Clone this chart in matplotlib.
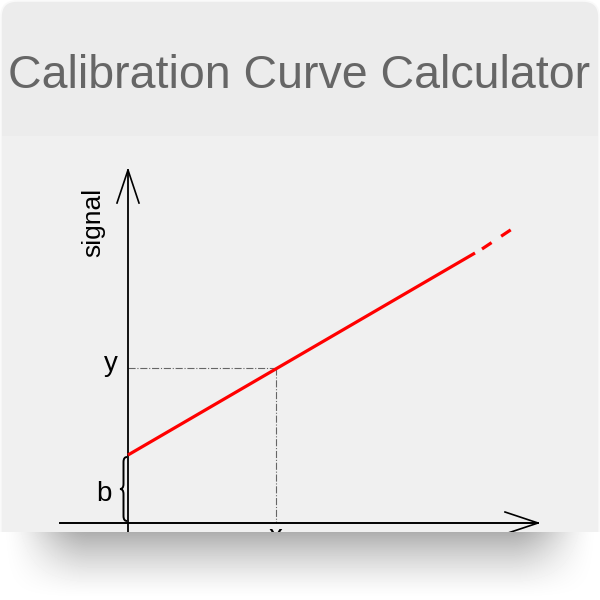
"""
Calibration curve calculator card: schematic of signal = m*x + b
"""
import numpy as np
import matplotlib
matplotlib.use("Agg")
import matplotlib.pyplot as plt
from matplotlib.patches import FancyBboxPatch, PathPatch
from matplotlib.path import Path

# --- data (schematic units, origin at the axis crossing) ---
title = "Calibration Curve Calculator"
axis_labels = ["signal", "y", "b", "x"]

intercept_b = 0.68
known_point = [1.48, 1.55]             # (x, y)
line_solid_x = [0.0, 3.47]
line_solid_y = [0.68, 2.70]
line_dashed_x = [3.54, 3.84]
line_dashed_y = [2.74, 2.94]
x_axis_span = [-0.68, 4.10]            # horizontal axis, arrow at the right end
y_axis_span = [-0.09, 3.53]            # vertical axis, arrow at the top end

FONT = ["Liberation Sans", "DejaVu Sans"]


def shadow_image(w=600, h=68):
    """soft grey shadow under the card"""
    xs = np.arange(w) + 0.5
    ys = np.arange(h) + 0.5
    t = ys / h
    fv = (1 - t) ** 1.5
    edge = np.minimum(xs, w - xs)
    fh = np.clip(edge / 90.0, 0, 1)
    fh = fh * fh * (3 - 2 * fh)
    dark = 0.32 * np.outer(fv, fh)
    return 1 - dark


def draw_brace(ax, x, y0, y1, depth=0.07):
    """tall thin curly brace pointing left, between y0 and y1"""
    mid = (y0 + y1) / 2
    r = 0.05
    xm = x - depth / 2
    xl = x - depth
    verts = [
        (x, y1), (xm, y1), (xm, y1 - r),
        (xm, mid + r),
        (xm, mid), (xl, mid),
        (xm, mid), (xm, mid - r),
        (xm, y0 + r),
        (xm, y0), (x, y0),
    ]
    codes = [Path.MOVETO, Path.CURVE3, Path.CURVE3,
             Path.LINETO,
             Path.CURVE3, Path.CURVE3,
             Path.CURVE3, Path.CURVE3,
             Path.LINETO,
             Path.CURVE3, Path.CURVE3]
    ax.add_patch(PathPatch(Path(verts, codes), fc="none", ec="black", lw=1.4, zorder=4))


def main():
    fig = plt.figure(figsize=(6, 6), dpi=100)
    fig.patch.set_facecolor("white")

    # background layer in pixel coordinates
    bg = fig.add_axes([0, 0, 1, 1])
    bg.set_xlim(0, 600)
    bg.set_ylim(600, 0)
    bg.axis("off")
    card = FancyBboxPatch((1, 1), 598, 570, boxstyle="round,pad=0,rounding_size=16",
                          fc="#ececec", ec="#f9f9f9", lw=1.2, zorder=1)
    bg.add_patch(card)
    bg.imshow(shadow_image(), extent=(0, 600, 600, 532), cmap="gray", vmin=0, vmax=1,
              aspect="auto", interpolation="bilinear", zorder=2)
    bg.text(299, 88, title, ha="center", va="baseline", fontsize=33.5,
            color="#666666", family=FONT)

    # chart panel
    ax = fig.add_axes([2 / 600, 68 / 600, 596 / 600, 396 / 600])
    ax.set_facecolor("#f0f0f0")
    ax.set_xlim(-1.26, 4.70)
    ax.set_ylim(-0.09, 3.87)
    for s in ax.spines.values():
        s.set_visible(False)
    ax.set_xticks([])
    ax.set_yticks([])

    # axes with open arrow heads
    hl, hw = 0.33, 0.11
    ax.plot(x_axis_span, [0, 0], color="black", lw=1.4, zorder=3)
    xt = x_axis_span[1]
    ax.plot([xt - hl, xt, xt - hl], [hw, 0, -hw], color="black", lw=1.2, zorder=3)
    ax.plot([0, 0], y_axis_span, color="black", lw=1.3, zorder=3)
    yt = y_axis_span[1]
    ax.plot([-hw, 0, hw], [yt - hl, yt, yt - hl], color="black", lw=1.2, zorder=3)

    # guide lines to the known point
    kx, ky = known_point
    ax.plot([0, kx], [ky, ky], color="#666666", lw=0.8, ls="-.", zorder=2)
    ax.plot([kx, kx], [ky, 0], color="#666666", lw=0.8, ls="-.", zorder=2)

    # calibration line
    ax.plot(line_solid_x, line_solid_y, color="#ff0000", lw=2.3, zorder=4,
            solid_capstyle="butt")
    ax.plot(line_dashed_x, line_dashed_y, color="#ff0000", lw=2.3, zorder=4,
            ls=(0, (3.6, 3.6)))

    draw_brace(ax, -0.01, 0.02, intercept_b - 0.02)

    # labels
    ax.text(-0.35, 3.01, axis_labels[0], rotation=90, ha="center", va="center",
            fontsize=19, family=FONT)
    ax.text(-0.17, 1.52, axis_labels[1], ha="center", va="baseline", fontsize=20, family=FONT)
    ax.text(-0.24, 0.22, axis_labels[2], ha="center", va="baseline", fontsize=20, family=FONT)
    ax.text(kx, -0.21, axis_labels[3], ha="center", va="baseline", fontsize=20,
            family=FONT, clip_on=True)

    fig.savefig("out.png", dpi=100)


if __name__ == "__main__":
    main()
